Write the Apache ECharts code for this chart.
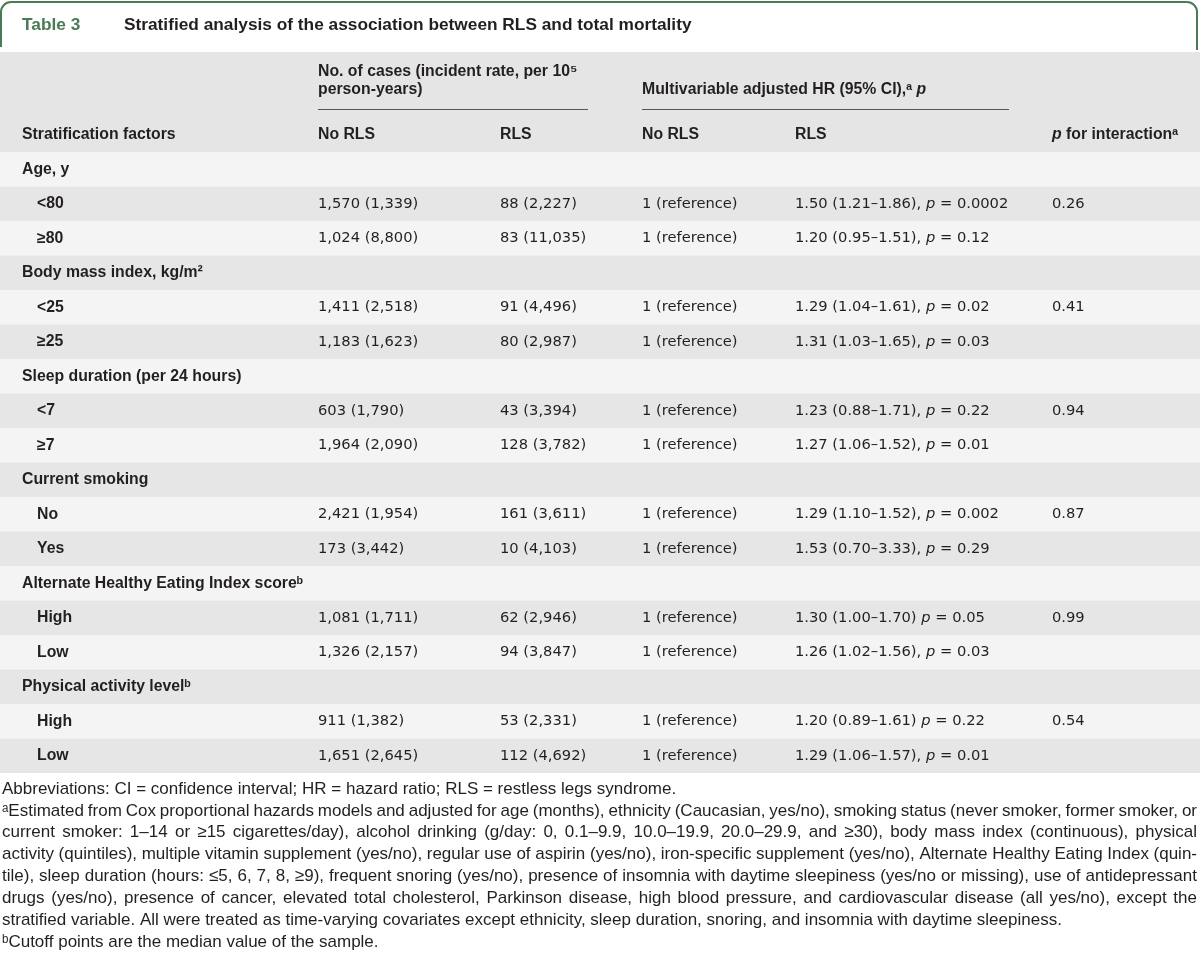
<!DOCTYPE html>
<html>
<head>
<meta charset="utf-8">
<script src="https://cdn.jsdelivr.net/npm/echarts@6/dist/echarts.min.js"></script>
<style>
html,body{margin:0;padding:0;background:#fff}
#main{width:1200px;height:966px}
</style>
</head>
<body>
<div id="main"></div>
<script>
// table data
var tableNo = 'Table 3';
var title = 'Stratified analysis of the association between RLS and total mortality';
var groupNames = ['Age, y', 'Body mass index, kg/m²', 'Sleep duration (per 24 hours)', 'Current smoking',
  'Alternate Healthy Eating Index scoreᵇ', 'Physical activity levelᵇ'];
var subLabels = [['<80', '≥80'], ['<25', '≥25'], ['<7', '≥7'], ['No', 'Yes'], ['High', 'Low'], ['High', 'Low']];
var casesNoRls = [1570, 1024, 1411, 1183, 603, 1964, 2421, 173, 1081, 1326, 911, 1651];
var rateNoRls = [1339, 8800, 2518, 1623, 1790, 2090, 1954, 3442, 1711, 2157, 1382, 2645];
var casesRls = [88, 83, 91, 80, 43, 128, 161, 10, 62, 94, 53, 112];
var rateRls = [2227, 11035, 4496, 2987, 3394, 3782, 3611, 4103, 2946, 3847, 2331, 4692];
var hrNoRls = '1 (reference)';
var hrRls = ['1.50', '1.20', '1.29', '1.31', '1.23', '1.27', '1.29', '1.53', '1.30', '1.26', '1.20', '1.29'];
var ciLow = ['1.21', '0.95', '1.04', '1.03', '0.88', '1.06', '1.10', '0.70', '1.00', '1.02', '0.89', '1.06'];
var ciHigh = ['1.86', '1.51', '1.61', '1.65', '1.71', '1.52', '1.52', '3.33', '1.70', '1.56', '1.61', '1.57'];
var hrSep = [',', ',', ',', ',', ',', ',', ',', ',', '', ',', '', ','];
var pRls = ['0.0002', '0.12', '0.02', '0.03', '0.22', '0.01', '0.002', '0.29', '0.05', '0.03', '0.22', '0.01'];
var pInteraction = ['0.26', '0.41', '0.94', '0.87', '0.99', '0.54'];
var colHeads = ['Stratification factors', 'No RLS', 'RLS', 'No RLS', 'RLS', '{ib|p} for interactionᵃ'];
var spanHeads = [['No. of cases (incident rate, per 10⁵', 'person-years)'], ['Multivariable adjusted HR (95% CI),ᵃ {ib|p}']];
var notes = [
  'Abbreviations: CI = confidence interval; HR = hazard ratio; RLS = restless legs syndrome.',
  'ᵃEstimated from Cox proportional hazards models and adjusted for age (months), ethnicity (Caucasian, yes/no), smoking status (never smoker, former smoker, or',
  'current smoker: 1–14 or ≥15 cigarettes/day), alcohol drinking (g/day: 0, 0.1–9.9, 10.0–19.9, 20.0–29.9, and ≥30), body mass index (continuous), physical',
  'activity (quintiles), multiple vitamin supplement (yes/no), regular use of aspirin (yes/no), iron-specific supplement (yes/no), Alternate Healthy Eating Index (quin-',
  'tile), sleep duration (hours: ≤5, 6, 7, 8, ≥9), frequent snoring (yes/no), presence of insomnia with daytime sleepiness (yes/no or missing), use of antidepressant',
  'drugs (yes/no), presence of cancer, elevated total cholesterol, Parkinson disease, high blood pressure, and cardiovascular disease (all yes/no), except the',
  'stratified variable. All were treated as time-varying covariates except ethnicity, sleep duration, snoring, and insomnia with daytime sleepiness.',
  'ᵇCutoff points are the median value of the sample.'
];
var notesJustified = [false, true, true, true, true, true, false, false];

// look
var REG = 'DejaVu Sans', BOLD = 'Liberation Sans', NOTE = 'Liberation Sans';
var INK = '#231f20', GREEN = '#4b7a56', HEAD_BG = '#e5e5e5', LIGHT = '#f4f4f4', DARK = '#e6e6e6';
var colX = [318, 500, 642, 795, 1052];
var NOTE_L = 2, NOTE_R = 1197;

var ctx = document.createElement('canvas').getContext('2d');
function textW(s, size, family, weight) {
  ctx.font = (weight || 'normal') + ' ' + size + 'px "' + family + '"';
  return ctx.measureText(s).width;
}
function fitSize(s, target, family, weight) {
  return Math.round(100 * target / textW(s, 100, family, weight) * 10) / 10;
}
var regSize = fitSize('1,570 (1,339)', 100, REG);
var boldSize = fitSize('Stratification factors', 154, BOLD, 'bold');
var titleSize = fitSize(title, 568, BOLD, 'bold');
// footnote size: largest size at which every justified line fits with spaces squeezed to 75%
var noteSize = Math.min.apply(null, notes.filter(function (s, i) { return notesJustified[i]; })
  .map(function (s) {
    var words = s.split(' ');
    var w = words.reduce(function (a, t) { return a + textW(t, 100, NOTE); }, 0) +
      (words.length - 1) * 0.75 * textW(' ', 100, NOTE);
    return Math.floor(100 * (NOTE_R - NOTE_L) / w * 10) / 10;
  }));

function fmt(n) { return n.toLocaleString('en-US'); }

var rich = {
  i: {fontStyle: 'italic', fontSize: regSize, fontFamily: REG, fill: INK},
  ib: {fontStyle: 'italic', fontWeight: 'bold', fontSize: boldSize, fontFamily: BOLD, fill: INK}
};
function txtStyle(s, bold) {
  return {
    text: s, fill: INK, fontSize: bold ? boldSize : regSize, fontFamily: bold ? BOLD : REG,
    fontWeight: bold ? 'bold' : 'normal', align: 'left', verticalAlign: 'middle', rich: rich
  };
}

// rows
var rows = [];
groupNames.forEach(function (g, gi) {
  rows.push({label: g});
  subLabels[gi].forEach(function (s, si) {
    var k = gi * 2 + si;
    rows.push({
      label: s, sub: true,
      cells: [
        fmt(casesNoRls[k]) + ' (' + fmt(rateNoRls[k]) + ')',
        fmt(casesRls[k]) + ' (' + fmt(rateRls[k]) + ')',
        hrNoRls,
        hrRls[k] + ' (' + ciLow[k] + '–' + ciHigh[k] + ')' + hrSep[k] + ' {i|p} = ' + pRls[k],
        si === 0 ? pInteraction[gi] : ''
      ]
    });
  });
});

// header, title bar and footnotes
var els = [];
var border = {stroke: GREEN, lineWidth: 2, fill: null};
els.push({type: 'rect', shape: {x: 0, y: 52, width: 1200, height: 100}, style: {fill: HEAD_BG}});
els.push({type: 'polyline', shape: {points: [[1, 47], [1, 12]]}, style: border});
els.push({type: 'arc', shape: {cx: 11, cy: 12, r: 10, startAngle: Math.PI, endAngle: Math.PI * 1.5, clockwise: true}, style: border});
els.push({type: 'polyline', shape: {points: [[11, 2], [1187, 2]]}, style: border});
els.push({type: 'arc', shape: {cx: 1187, cy: 12, r: 10, startAngle: Math.PI * 1.5, endAngle: Math.PI * 2, clockwise: true}, style: border});
els.push({type: 'polyline', shape: {points: [[1197, 12], [1197, 50]]}, style: border});
els.push({type: 'text', x: 22, y: 25, style: {text: tableNo, fill: GREEN, fontSize: titleSize, fontFamily: BOLD,
  fontWeight: 'bold', verticalAlign: 'middle'}});
els.push({type: 'text', x: 124, y: 25, style: {text: title, fill: INK, fontSize: titleSize, fontFamily: BOLD,
  fontWeight: 'bold', verticalAlign: 'middle'}});
spanHeads[0].forEach(function (s, k) {
  els.push({type: 'text', x: colX[0], y: 72 + k * 17.5, style: txtStyle(s, true)});
});
els.push({type: 'text', x: colX[2], y: 89.5, style: txtStyle(spanHeads[1][0], true)});
els.push({type: 'line', shape: {x1: colX[0], y1: 109.5, x2: 588, y2: 109.5}, style: {stroke: '#555', lineWidth: 1}});
els.push({type: 'line', shape: {x1: colX[2], y1: 109.5, x2: 1009, y2: 109.5}, style: {stroke: '#555', lineWidth: 1}});
colHeads.forEach(function (s, k) {
  els.push({type: 'text', x: k === 0 ? 22 : colX[k - 1], y: 135, style: txtStyle(s, true)});
});

notes.forEach(function (line, li) {
  var y = 789 + li * 21.9;
  var words = line.split(' ');
  var ws = words.map(function (w) { return textW(w, noteSize, NOTE); });
  var sum = ws.reduce(function (a, b) { return a + b; }, 0);
  var gap = notesJustified[li] ? (NOTE_R - NOTE_L - sum) / (words.length - 1) : textW(' ', noteSize, NOTE);
  var x = NOTE_L;
  words.forEach(function (w, k) {
    els.push({type: 'text', x: x, y: y, style: {text: w, fill: INK, fontSize: noteSize, fontFamily: NOTE,
      verticalAlign: 'middle'}});
    x += ws[k] + gap;
  });
});

var chart = echarts.init(document.getElementById('main'), null, {renderer: 'canvas'});
chart.setOption({
  animation: false,
  backgroundColor: '#fff',
  grid: {left: 0, right: 0, top: 152, height: 621},
  xAxis: {type: 'value', min: 0, max: 1200, show: false},
  yAxis: {type: 'category', inverse: true, show: false, data: rows.map(function (r) { return r.label; })},
  graphic: {elements: els},
  series: [{
    type: 'custom',
    silent: true,
    data: rows.map(function (r, i) { return [0, i]; }),
    encode: {x: 0, y: 1},
    renderItem: function (params, api) {
      var i = api.value(1);
      var c = api.coord([0, i]);
      var h = api.size([0, 1])[1];
      var r = rows[i];
      var kids = [{type: 'rect', shape: {x: 0, y: c[1] - h / 2, width: 1200, height: h},
        style: {fill: i % 2 ? DARK : LIGHT}}];
      kids.push({type: 'text', style: Object.assign({x: r.sub ? 37 : 22, y: c[1]}, txtStyle(r.label, true))});
      if (r.cells) {
        r.cells.forEach(function (s, j) {
          if (s) kids.push({type: 'text', style: Object.assign({x: colX[j], y: c[1]}, txtStyle(s, false))});
        });
      }
      return {type: 'group', children: kids};
    }
  }]
});
</script>
</body>
</html>
